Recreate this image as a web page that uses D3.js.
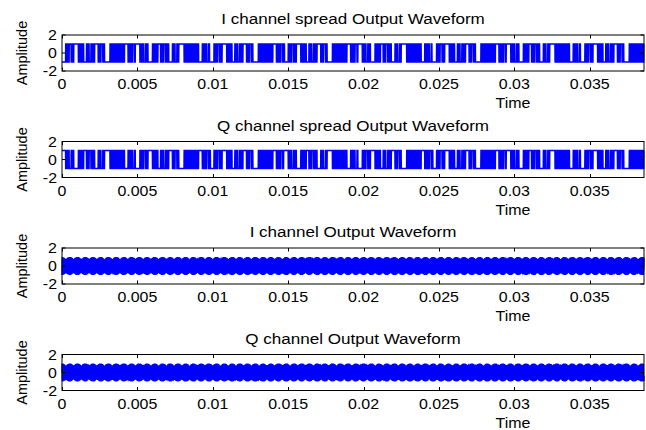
<!DOCTYPE html>
<html>
<head>
<meta charset="utf-8">
<script src="https://cdn.jsdelivr.net/npm/d3@7"></script>
<style>
  body { margin: 0; background: #fff; }
  svg { display: block; }
  text { font-family: "Liberation Sans", Arial, sans-serif; fill: #000; }
</style>
</head>
<body>
<svg id="chart" width="646" height="430"></svg>
<script>
// ---- data -------------------------------------------------------------
const panelTitles = [
  "I channel spread Output Waveform",
  "Q channel spread Output Waveform",
  "I channel Output Waveform",
  "Q channel Output Waveform"
];
const xTicks = [0, 0.005, 0.01, 0.015, 0.02, 0.025, 0.03, 0.035];
const xTickLabels = ["0", "0.005", "0.01", "0.015", "0.02", "0.025", "0.03", "0.035"];
const yTicks = [-2, 0, 2];
const yTickLabels = ["-2", "0", "2"];
const xLabel = "Time";
const yLabel = "Amplitude";
const timeEnd = 0.0386;

// 82-chip spreading code (+1 / -1)
const pnCode = [
  -1,-1,-1,-1,
   1,-1, 1,-1, 1, 1,-1, 1,-1,
   1, 1, 1, 1, 1,
  -1, 1,-1, 1,-1, 1,-1,
  -1,-1,
   1,-1, 1,-1,-1, 1,-1, 1,-1, 1,
   1, 1, 1,
  -1, 1,-1, 1, 1,-1, 1,-1,
  -1,-1,-1,-1,-1,
   1,-1, 1,-1, 1,-1, 1,-1, 1,
  -1, 1,-1, 1,-1, 1,-1,
   1, 1, 1, 1,
  -1, 1,-1, 1,-1, 1, 1,-1, 1
];
// data bits on each branch, one bit per code period
const dataBitsI = [1,-1, 1, 1,-1, 1,-1, 1];
const dataBitsQ = [-1, 1, 1,-1, 1, 1,-1, 1];
const chipTime = 0.00006;     // seconds per chip
const carrierFreq = 25000;    // Hz
const sampleRate = 101950;    // Hz

// ---- signal construction ---------------------------------------------
function spreadAt(bits, t) {
  const chip = Math.floor(t / chipTime + 1e-9);
  const bit = Math.min(bits.length - 1, Math.floor(chip / pnCode.length));
  return bits[bit] * pnCode[chip % pnCode.length];
}
const nSamples = Math.floor(timeEnd * sampleRate) + 1;
const times = d3.range(nSamples).map(k => k / sampleRate);
const spreadI = times.map(t => spreadAt(dataBitsI, t));
const spreadQ = times.map(t => spreadAt(dataBitsQ, t));
const outI = times.map((t, k) => spreadI[k] * Math.cos(2 * Math.PI * carrierFreq * t));
const outQ = times.map((t, k) => spreadQ[k] * Math.sin(2 * Math.PI * carrierFreq * t));
const panelSeries = [spreadI, spreadQ, outI, outQ];

// ---- layout -----------------------------------------------------------
const svg = d3.select("#chart");
const left = 62, right = 644;
const panelTop0 = 35, panelStep = 106.5, panelH = 36;
const stretch = 1.1;   // horizontal widening of the lettering

function label(g, x, y, str, size, anchor) {
  g.append("text")
    .attr("transform", `translate(${x},${y}) scale(${stretch},1)`)
    .attr("text-anchor", anchor)
    .style("font-size", size + "px")
    .text(str);
}

const x = d3.scaleLinear().domain([0, timeEnd]).range([left, right]);

panelSeries.forEach((series, p) => {
  const top = panelTop0 + p * panelStep;
  const y = d3.scaleLinear().domain([-2, 2]).range([top + panelH, top]);
  const g = svg.append("g");

  // waveform
  const line = d3.line()
    .x((d, k) => x(times[k]))
    .y(d => y(d));
  g.append("path")
    .datum(series)
    .attr("d", line)
    .attr("fill", "none")
    .attr("stroke", "#0000ff")
    .attr("stroke-width", 1.5);

  // box
  g.append("rect")
    .attr("x", left).attr("y", top)
    .attr("width", right - left).attr("height", panelH)
    .attr("fill", "none").attr("stroke", "#000").attr("stroke-width", 1);

  // x ticks (inside, top and bottom)
  const tl = 3.5;
  xTicks.forEach((v, i) => {
    const xx = Math.round(x(v)) + 0.5;
    g.append("line").attr("x1", xx).attr("x2", xx)
      .attr("y1", top + panelH).attr("y2", top + panelH - tl)
      .attr("stroke", "#000").attr("stroke-width", 1);
    g.append("line").attr("x1", xx).attr("x2", xx)
      .attr("y1", top).attr("y2", top + tl)
      .attr("stroke", "#000").attr("stroke-width", 1);
    label(g, x(v), top + panelH + 18, xTickLabels[i], 14.5, "middle");
  });

  // y ticks
  yTicks.forEach((v, i) => {
    const yy = y(v);
    g.append("line").attr("x1", left).attr("x2", left + tl)
      .attr("y1", yy).attr("y2", yy).attr("stroke", "#000");
    g.append("line").attr("x1", right).attr("x2", right - tl)
      .attr("y1", yy).attr("y2", yy).attr("stroke", "#000");
    label(g, 57, yy + 5, yTickLabels[i], 14.5, "end");
  });

  // titles and axis labels
  label(g, (left + right) / 2, top - 11, panelTitles[p], 15.5, "middle");
  label(g, 513, top + panelH + 37, xLabel, 14.5, "middle");
  g.append("text")
    .attr("transform", `translate(27,${top + panelH / 2}) rotate(-90)`)
    .attr("text-anchor", "middle")
    .style("font-size", "14.5px")
    .text(yLabel);
});
</script>
</body>
</html>
